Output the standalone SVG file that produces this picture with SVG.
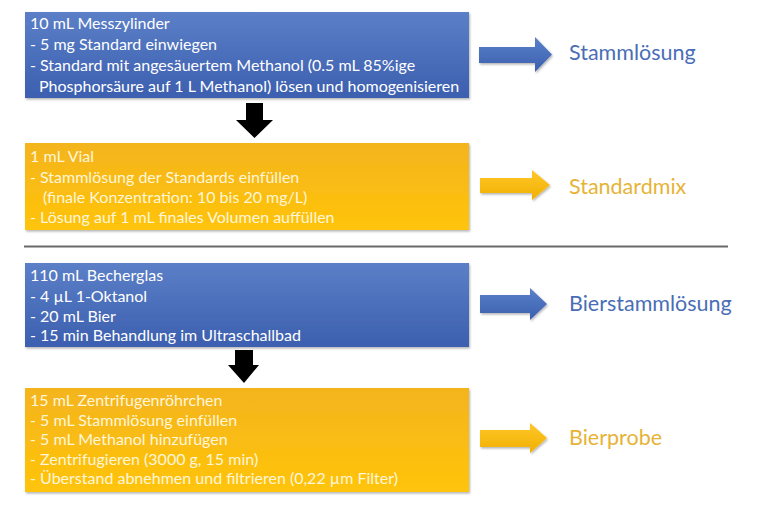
<svg xmlns="http://www.w3.org/2000/svg" width="760" height="505" viewBox="0 0 760 505">
<defs>
<linearGradient id="gBlue" x1="0" y1="0" x2="0" y2="1">
<stop offset="0" stop-color="#5B7FC7"/>
<stop offset="1" stop-color="#3C5FAF"/>
</linearGradient>
<linearGradient id="gYel" x1="0" y1="0" x2="0" y2="1">
<stop offset="0" stop-color="#F4B41F"/>
<stop offset="1" stop-color="#FFC408"/>
</linearGradient>
<linearGradient id="gBlueArr" x1="0" y1="0" x2="0" y2="1">
<stop offset="0" stop-color="#5A80CA"/>
<stop offset="1" stop-color="#3B60AE"/>
</linearGradient>
<linearGradient id="gYelArr" x1="0" y1="0" x2="0" y2="1">
<stop offset="0" stop-color="#FFC72A"/>
<stop offset="1" stop-color="#F0B000"/>
</linearGradient>
<filter id="sh" x="-5%" y="-5%" width="110%" height="115%">
<feDropShadow dx="1" dy="1.5" stdDeviation="1.2" flood-color="#000" flood-opacity="0.3"/>
</filter>
</defs>
<style>
.box{filter:url(#sh);}
.t{font-family:Lato,"Open Sans",sans-serif;font-size:16px;}
.tb{fill:#FFFFFF;}
.ty{fill:#FFF6DA;}
.lab{font-family:Lato,"Open Sans",sans-serif;font-size:21.5px;}
.lb{fill:#4A6EB6;}
.ly{fill:#E6B336;}
</style>
<rect width="760" height="505" fill="#FFFFFF"/>

<g id="box1">
<rect class="box" x="25" y="12" width="444" height="86" fill="url(#gBlue)"/>
<text class="t tb" x="30" y="29">10 mL Messzylinder</text>
<text class="t tb" x="30" y="50">- 5 mg Standard einwiegen</text>
<text class="t tb" x="30" y="71">- Standard mit angesäuertem Methanol (0.5 mL 85%ige</text>
<text class="t tb" x="39" y="92">Phosphorsäure auf 1 L Methanol) lösen und homogenisieren</text>
</g>

<g id="box2">
<rect class="box" x="25" y="143" width="444" height="87" fill="url(#gYel)"/>
<text class="t ty" x="30" y="162">1 mL Vial</text>
<text class="t ty" x="30" y="183">- Stammlösung der Standards einfüllen</text>
<text class="t ty" x="43" y="203">(finale Konzentration: 10 bis 20 mg/L)</text>
<text class="t ty" x="30" y="223">- Lösung auf 1 mL finales Volumen auffüllen</text>
</g>

<g id="box3">
<rect class="box" x="25" y="263" width="444" height="84" fill="url(#gBlue)"/>
<text class="t tb" x="30" y="281">110 mL Becherglas</text>
<text class="t tb" x="30" y="302">- 4 µL 1-Oktanol</text>
<text class="t tb" x="30" y="322">- 20 mL Bier</text>
<text class="t tb" x="30" y="341">- 15 min Behandlung im Ultraschallbad</text>
</g>

<g id="box4">
<rect class="box" x="25" y="388" width="444" height="104" fill="url(#gYel)"/>
<text class="t ty" x="30" y="406">15 mL Zentrifugenröhrchen</text>
<text class="t ty" x="30" y="426">- 5 mL Stammlösung einfüllen</text>
<text class="t ty" x="30" y="445">- 5 mL Methanol hinzufügen</text>
<text class="t ty" x="30" y="465">- Zentrifugieren (3000 g, 15 min)</text>
<text class="t ty" x="30" y="484">- Überstand abnehmen und filtrieren (0,22 µm Filter)</text>
</g>

<g id="lab1"><text class="lab lb" x="569" y="60">Stammlösung</text></g>
<g id="lab2"><text class="lab ly" x="569" y="194">Standardmix</text></g>
<g id="lab3"><text class="lab lb" x="569" y="311">Bierstammlösung</text></g>
<g id="lab4"><text class="lab ly" x="569" y="445">Bierprobe</text></g>

<g id="connectors">
<polygon points="246,103 263,103 263,120 273,120 254.5,138 236,120 246,120" fill="#000000"/>
<polygon points="235,350 253,350 253,365 259,365 244,383 228,365 235,365" fill="#000000"/>
<polygon points="479,47 535,47 535,37 552,54.5 535,72 535,63 479,63" fill="url(#gBlueArr)" filter="url(#sh)"/>
<polygon points="480,178 532,178 532,170 550,185 532,200 532,193 480,193" fill="url(#gYelArr)" filter="url(#sh)"/>
<polygon points="480,295 530,295 530,288 547,304 530,320 530,313 480,313" fill="url(#gBlueArr)" filter="url(#sh)"/>
<polygon points="480,430 530,430 530,423 547,438 530,453 530,447 480,447" fill="url(#gYelArr)" filter="url(#sh)"/>
<line x1="24" y1="246.5" x2="728" y2="246.5" stroke="#6A6A6A" stroke-width="2"/>
</g>
</svg>
